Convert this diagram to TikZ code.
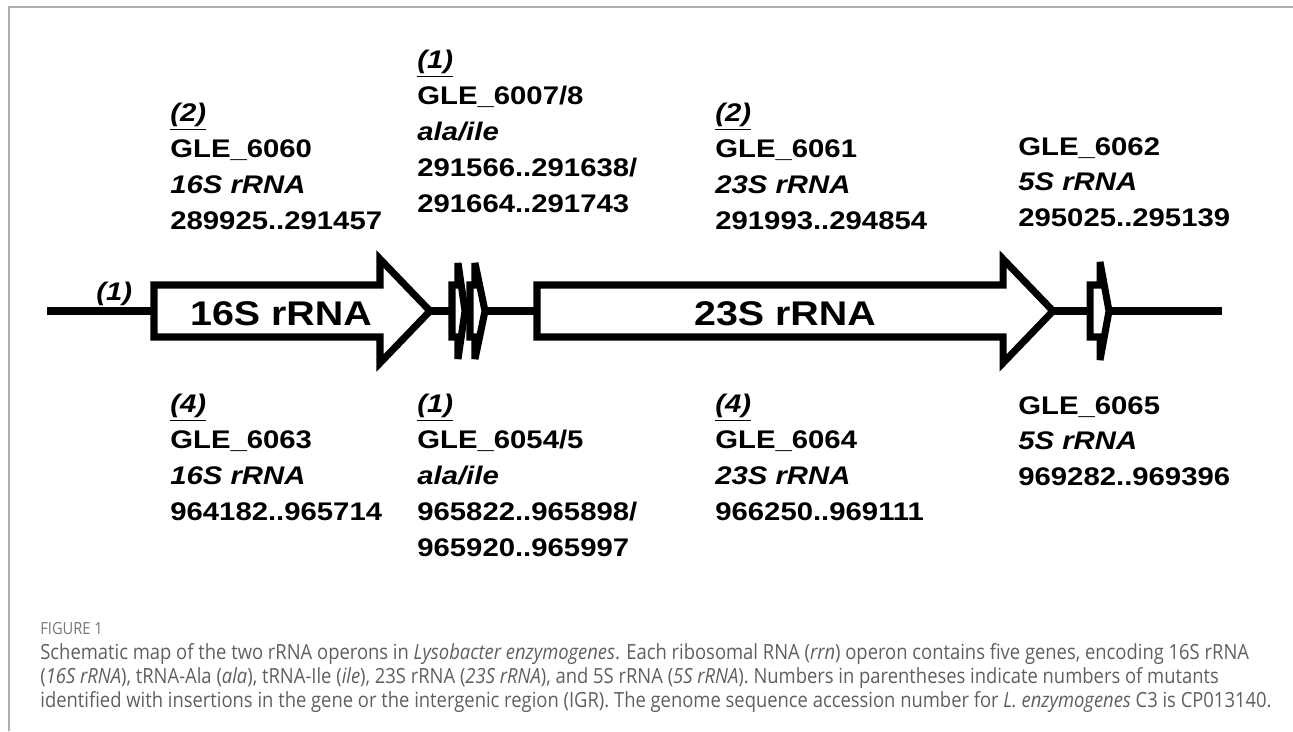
\documentclass[tikz,border=0pt]{standalone}
\usepackage{fontspec}
\setmainfont{Liberation Sans}
\newfontfamily\genefont[FakeStretch=1.15]{Liberation Sans}
\newfontfamily\capfont[FakeStretch=0.88]{Open Sans}
\usetikzlibrary{calc}
\definecolor{frameline}{RGB}{175,175,175}
\definecolor{captext}{RGB}{95,95,95}
\definecolor{ink}{RGB}{0,0,0}
\tikzset{
  dna/.style={draw=ink,line width=4pt},
  info/.style={anchor=north west,inner sep=0,align=left,
    font=\genefont\bfseries\fontsize{14.5}{20.4}\selectfont},
  inbox/.style={inner sep=0,font=\genefont\bfseries\fontsize{19.5}{22}\selectfont},
  legend/.style={anchor=north west,inner sep=0,align=left,text=captext,
    font=\capfont\fontsize{11.9}{13.8}\selectfont},
  % gene arrow: body length / head length / head half height
  pics/gene/.style args={#1/#2/#3}{code={
    \draw[dna,fill=white,line join=miter,miter limit=3] (0,-26) -- (#1,-26) -- (#1,-#3)
      -- (#1+#2,0) -- (#1,#3) -- (#1,26) -- (0,26) -- cycle;
    \coordinate (-tail) at (0,0);
    \coordinate (-tip) at (#1+#2,0);
  }},
}
\newcommand{\mut}[1]{\underline{\textit{(#1)}}}

\begin{document}
\begin{tikzpicture}[x=0.02cm,y=-0.02cm]
  \useasboundingbox (0,0) rectangle (1293,731);
  \draw[frameline,line width=1pt] (9,731) -- (9,7) -- (1293,7);

  % operon
  \foreach \n/\x/\l/\h/\e in {g16/154/226/50/52, t1/452/6/7/48, t2/470/5/10/48,
      g23/537/466/50/52, g5/1090/10/9/49}
    \pic (\n) at (\x,311) {gene=\l/\h/\e};
  \coordinate (left) at (47,311);
  \coordinate (right) at (1222,311);
  \draw[dna] (left) -- (g16-tail) (g16-tip) -- (t1-tail) (t1-tip) -- (t2-tail)
    (t2-tip) -- (g23-tail) (g23-tip) -- (g5-tail) (g5-tip) -- (right);
  \node[inbox] (n16) at (281,314) {16S rRNA};
  \node[inbox] (n23) at (785,314) {23S rRNA};
  \node[info,anchor=base west] (igr) at (96,300) {\mut{1}};

  % copy 1
  \node[info] (top16) at (170,103) {\mut{2}\\GLE\_6060\\\textit{16S rRNA}\\289925..291457};
  \node[info] (toptr) at (417,50) {\mut{1}\\GLE\_6007/8\\\textit{ala/ile}\\291566..291638/\\291664..291743};
  \node[info] (top23) at (715,103) {\mut{2}\\GLE\_6061\\\textit{23S rRNA}\\291993..294854};
  \node[info] (top5) at (1018,137) {GLE\_6062\\\textit{5S rRNA}\\295025..295139};
  % copy 2
  \node[info] (bot16) at (170,394) {\mut{4}\\GLE\_6063\\\textit{16S rRNA}\\964182..965714};
  \node[info] (bottr) at (417,394) {\mut{1}\\GLE\_6054/5\\\textit{ala/ile}\\965822..965898/\\965920..965997};
  \node[info] (bot23) at (715,394) {\mut{4}\\GLE\_6064\\\textit{23S rRNA}\\966250..969111};
  \node[info] (bot5) at (1018,396) {GLE\_6065\\\textit{5S rRNA}\\969282..969396};

  % caption
  \node[legend,font=\capfont\fontsize{9.5}{11}\selectfont,text=captext!85] (fig) at (40,622) {FIGURE 1};
  \node[legend] (caption) at (40,643) {Schematic map of the two rRNA operons in \textit{Lysobacter enzymogenes}. Each ribosomal RNA (\textit{rrn}) operon contains five genes, encoding 16S rRNA\\
    (\textit{16S rRNA}), tRNA-Ala (\textit{ala}), tRNA-Ile (\textit{ile}), 23S rRNA (\textit{23S rRNA}), and 5S rRNA (\textit{5S rRNA}). Numbers in parentheses indicate numbers of mutants\\
    identified with insertions in the gene or the intergenic region (IGR). The genome sequence accession number for \textit{L. enzymogenes} C3 is CP013140.};
\end{tikzpicture}
\end{document}
